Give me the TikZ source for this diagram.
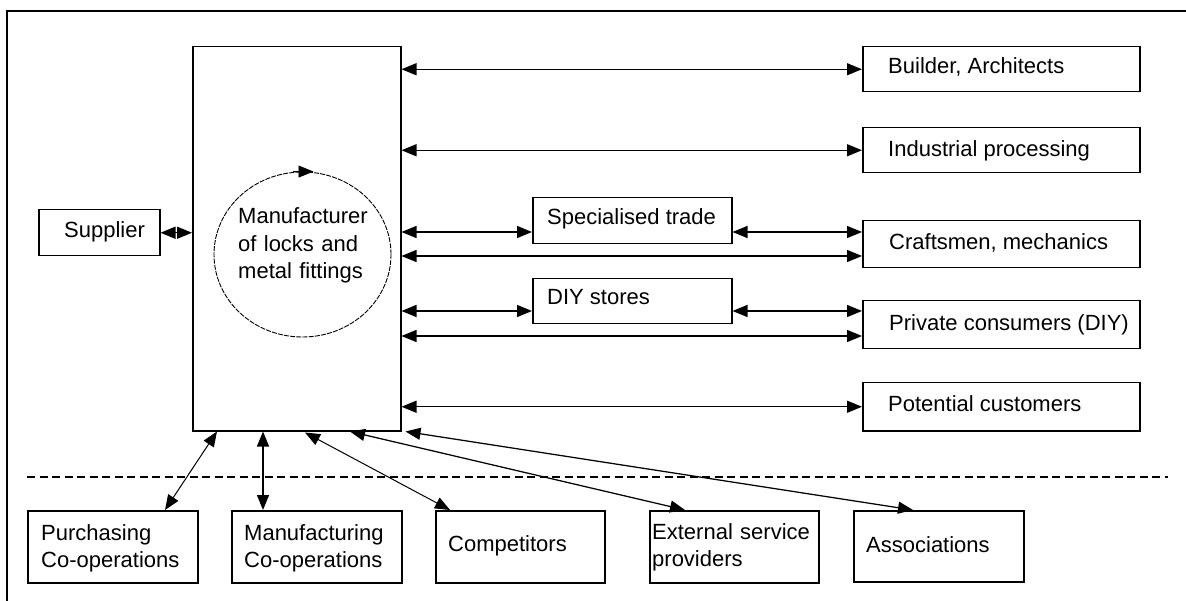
\documentclass[tikz,border=0pt]{standalone}
\usepackage{fontspec}
\setmainfont{Liberation Sans}
\usetikzlibrary{arrows.meta,calc,shapes.geometric}
\begin{document}
\begin{tikzpicture}[x=1pt,y=-1pt,
  font=\fontsize{22}{27.5}\selectfont,
  box/.style={draw, line width=1.5pt, rectangle, anchor=north west, inner sep=0pt},
  txt/.style={anchor=base west, inner sep=0pt},
  mtxt/.style={anchor=base west, inner sep=0pt, text width=180pt, align=left},
  link/.style={line width=1.4pt, {Triangle[length=15pt,width=12pt]}-{Triangle[length=15pt,width=12pt]}},
  thinlink/.style={link, line width=1pt},
  midlink/.style={link, line width=1.25pt},
  sepline/.style={line width=1.3pt, dash pattern=on 8pt off 4.5pt},
  frame/.style={line width=2pt}
]
\useasboundingbox (0,0) rectangle (1186,601);
\fill[white] (0,0) rectangle (1186,601);

% outer frame (partly outside the picture)
\coordinate (fbl) at (7,620);
\coordinate (ftl) at (7,11);
\coordinate (ftr) at (1200,11);
\draw[frame] (fbl) -- (ftl) -- (ftr);

% main box and circle
\node[box, minimum width=208pt, minimum height=384pt] (main) at (192,46) {};
\node[draw, ellipse, minimum width=177pt, minimum height=165pt, inner sep=0pt,
      line width=0.9pt, dash pattern=on 5pt off 1.2pt] (circ) at (302.5,254.5) {};
\draw[line width=0.9pt, -{Triangle[length=15pt,width=12pt]}] ([xshift=-10pt]circ.north) -- ([xshift=11pt]circ.north);
\node[mtxt] (mtext) at (238,224) {Manufacturer\\of locks and\\metal fittings};

% supplier
\node[box, minimum width=121pt, minimum height=46pt] (supplier) at (38,209) {};
\node[txt] (tsupplier) at (64,238) {Supplier};

% right-hand boxes
\node[box, minimum width=277pt, minimum height=45pt] (builder) at (862,46) {};
\node[txt] (tbuilder) at (888,74) {Builder, Architects};
\node[box, minimum width=277pt, minimum height=45pt] (industrial) at (862,127) {};
\node[txt] (tindustrial) at (888,157) {Industrial processing};
\node[box, minimum width=277pt, minimum height=47pt] (crafts) at (862,220) {};
\node[txt] (tcrafts) at (889,250) {Craftsmen, mechanics};
\node[box, minimum width=277pt, minimum height=48pt] (private) at (862,300) {};
\node[txt] (tprivate) at (889,331) {Private consumers (DIY)};
\node[box, minimum width=277pt, minimum height=48pt] (potential) at (862,382) {};
\node[txt] (tpotential) at (888,412) {Potential customers};

% middle trade boxes
\node[box, minimum width=199pt, minimum height=46pt] (spec) at (532,197) {};
\node[txt] (tspec) at (547,225) {Specialised trade};
\node[box, minimum width=199pt, minimum height=45pt] (diy) at (532,278) {};
\node[txt] (tdiy) at (547,305) {DIY stores};

% bottom boxes
\node[box, minimum width=170pt, minimum height=72pt] (purch) at (27,510) {};
\node[mtxt] (tpurch) at (41,540) {Purchasing\\Co-operations};
\node[box, minimum width=170pt, minimum height=72pt] (manuf) at (231,510) {};
\node[mtxt] (tmanuf) at (244,540) {Manufacturing\\Co-operations};
\node[box, minimum width=169pt, minimum height=72pt] (comp) at (435,510) {};
\node[txt] (tcomp) at (448,551) {Competitors};
\node[box, minimum width=169pt, minimum height=72pt] (ext) at (649,510) {};
\node[mtxt] (text) at (652,539) {External service\\providers};
\node[box, minimum width=170pt, minimum height=71pt] (assoc) at (853,510) {};
\node[txt] (tassoc) at (866,552) {Associations};

% separator
\coordinate (sepl) at (27,477);
\coordinate (sepr) at (1168,477);
\draw[sepline] (sepl) -- (sepr);

% connectors on the right
\draw[link] (main.east |- builder.west) -- (builder.west);
\draw[link] (main.east |- industrial.west) -- (industrial.west);
\draw[link] (main.east |- 0,232) -- (spec.west |- 0,232);
\draw[link] (spec.east |- 0,232) -- (crafts.west |- 0,232);
\draw[link] (main.east |- 0,256) -- (crafts.west |- 0,256);
\draw[link] (main.east |- 0,311) -- (diy.west |- 0,311);
\draw[link] (diy.east |- 0,311) -- (private.west |- 0,311);
\draw[link] (main.east |- 0,336) -- (private.west |- 0,336);
\draw[link] (main.east |- potential.west) -- (potential.west);

% supplier connector
\draw[link] (supplier.east) -- (main.west |- supplier.east);

% bottom connectors
\draw[thinlink] ($(main.south west)+(25,0)$) -- ($(purch.north west)+(138,0)$);
\draw[link] ($(main.south west)+(71,0)$) -- ($(manuf.north west)+(32,0)$);
\draw[thinlink] ($(main.south west)+(113,1)$) -- ($(comp.north west)+(15,0)$);
\draw[midlink] ($(main.south west)+(158,0)$) -- ($(ext.north west)+(36,0)$);
\draw[midlink] ($(main.south east)+(4,0)$) -- ($(assoc.north west)+(60,0)$);
\end{tikzpicture}
\end{document}
